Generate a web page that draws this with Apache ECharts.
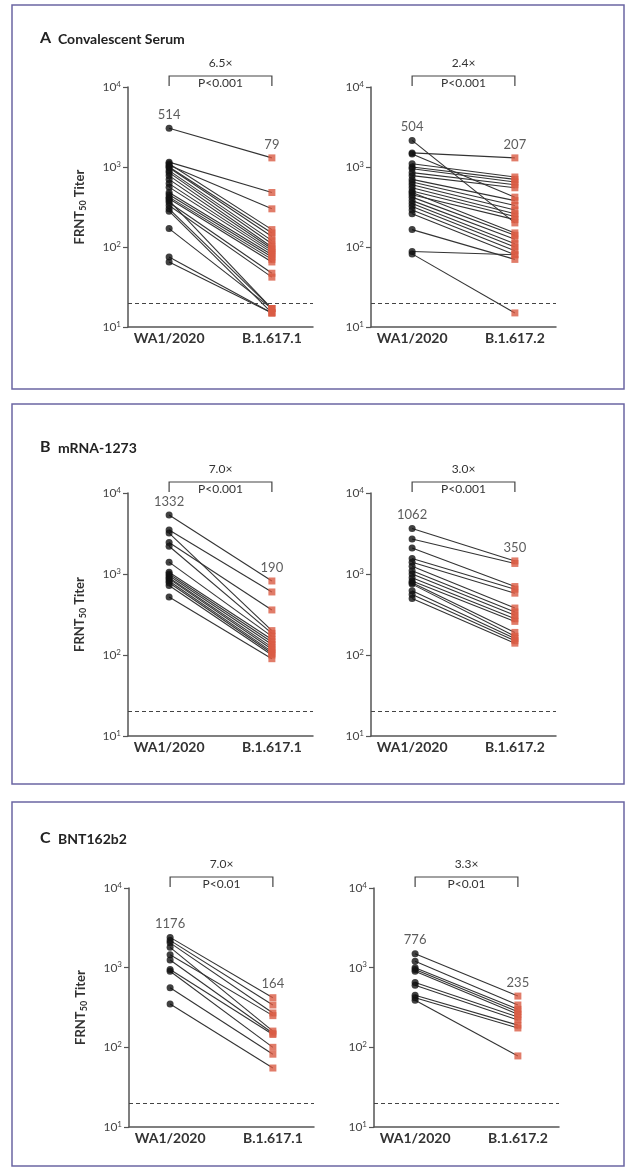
<!DOCTYPE html>
<html><head><meta charset="utf-8">
<script src="https://cdn.jsdelivr.net/npm/echarts@6/dist/echarts.min.js"></script>
<style>html,body{margin:0;padding:0;background:#fff}#c{width:627px;height:1175px}</style>
</head><body><div id="c"></div>
<script>
// ---------- DATA ----------
const panelLetters = ['A', 'B', 'C'];
const panelNames = ['Convalescent Serum', 'mRNA-1273', 'BNT162b2'];
const referenceStrain = 'WA1/2020';
const variantStrains = ['B.1.617.1', 'B.1.617.2'];
const yTickLabels = ['10', '10', '10', '10']; // base of 10^1..10^4
const limitOfDetection = 20;

// Panel A, Convalescent serum (paired by subject)
const convWA1_a = [3050,1150,1100,1050,1000,980,900,850,780,700,620,560,480,450,420,400,380,360,330,300,280,170,75,65];
const convB16171 = [1300,480,165,300,150,135,120,110,100,95,90,85,80,75,70,65,17,47,42,17,15,17,15,15];
const convWA1_b = [2150,1500,1450,1100,1000,950,850,780,700,650,600,550,500,480,450,420,380,350,320,290,260,165,88,82];
const convB16172 = [200,1300,420,750,700,650,600,550,380,330,290,260,240,150,220,140,125,110,100,90,80,70,80,15];
// Panel B, mRNA-1273
const mrnaWA1_a = [5350,3500,3200,2450,2200,1400,1050,1000,950,900,870,820,780,720,520];
const mrnaB16171 = [820,600,200,360,185,170,155,145,135,125,118,110,105,100,90];
const mrnaWA1_b = [3650,2700,2100,1550,1400,1250,1100,1000,900,820,780,750,620,560,500];
const mrnaB16172 = [1450,1350,700,650,580,380,340,310,280,260,190,170,160,150,140];
// Panel C, BNT162b2
const bntWA1_a = [2400,2200,2050,1800,1450,1250,950,900,560,350];
const bntB16171 = [420,340,270,160,250,150,145,100,82,55];
const bntWA1_b = [1500,1200,1000,950,900,650,600,450,420,390];
const bntB16172 = [440,340,300,280,260,240,220,190,175,78];

// Geometric mean titers, fold changes and P values shown on the chart
const gmtReference = [514, 504, 1332, 1062, 1176, 776];
const gmtVariant = [79, 207, 190, 350, 164, 235];
const foldChange = ['6.5×', '2.4×', '7.0×', '3.0×', '7.0×', '3.3×'];
const pValues = ['P<0.001', 'P<0.001', 'P<0.001', 'P<0.001', 'P<0.01', 'P<0.01'];

// ---------- LAYOUT ----------
const FONT = 'Lato';
const panelBoxes = [{y:5,h:384},{y:404,h:380},{y:802,h:364}];
const titleY = [38, 447, 838];
const gridTop = [87, 493, 888];
const gridH = [240, 243, 239];
const gridLeft = [[128, 371], [128, 371], [129, 374]];
const gridW = 185;
const X_REF = 2, X_VAR = 7; // slot positions on the 0..9 x scale

const charts = [
  [convWA1_a, convB16171], [convWA1_b, convB16172],
  [mrnaWA1_a, mrnaB16171], [mrnaWA1_b, mrnaB16172],
  [bntWA1_a, bntB16171], [bntWA1_b, bntB16172]
];

const grids = [], xAxes = [], yAxes = [], series = [];
charts.forEach((pair, g) => {
  const p = Math.floor(g / 2), s = g % 2;
  grids.push({left: gridLeft[p][s], top: gridTop[p], width: gridW, height: gridH[p]});
  xAxes.push({
    gridIndex: g, type: 'value', min: 0, max: 9, interval: 1,
    axisLine: {show: true, lineStyle: {color: '#555', width: 1.5}},
    axisTick: {show: false}, splitLine: {show: false},
    axisLabel: {
      formatter: v => v === X_REF ? referenceStrain : (v === X_VAR ? variantStrains[s] : ''),
      fontFamily: FONT, fontWeight: 'bold', fontSize: 14, color: '#333', margin: 4
    }
  });
  yAxes.push({
    gridIndex: g, type: 'log', logBase: 10, min: 10, max: 10000,
    axisLine: {show: true, lineStyle: {color: '#555', width: 1.5}},
    axisTick: {show: true, length: 5, lineStyle: {color: '#555', width: 1.2}},
    splitLine: {show: false}, minorTick: {show: false},
    axisLabel: {
      margin: 7,
      formatter: v => {
        const e = Math.round(Math.log10(v));
        return '{n|' + yTickLabels[e - 1] + '}{s|' + e + '}';
      },
      rich: {
        n: {fontFamily: FONT, fontSize: 12, color: '#444', lineHeight: 14},
        s: {fontFamily: FONT, fontSize: 8, color: '#444', verticalAlign: 'top'}
      }
    },
    name: s === 0 ? '{a|FRNT}{b|50}{a| Titer}' : '',
    nameLocation: 'middle', nameGap: 40, nameRotate: 90,
    nameTextStyle: {
      rich: {
        a: {fontFamily: FONT, fontWeight: 'bold', fontSize: 13, color: '#333', lineHeight: 16},
        b: {fontFamily: FONT, fontWeight: 'bold', fontSize: 9, color: '#333', verticalAlign: 'bottom'}
      }
    }
  });
  const ref = pair[0], vr = pair[1];
  ref.forEach((v, i) => {
    series.push({
      type: 'line', xAxisIndex: g, yAxisIndex: g, silent: true, animation: false,
      symbol: 'none', z: 2,
      lineStyle: {color: '#333', width: 1.1},
      data: [[X_REF, v], [X_VAR, vr[i]]]
    });
  });
  series.push({
    type: 'scatter', xAxisIndex: g, yAxisIndex: g, animation: false, z: 4,
    symbol: 'circle', symbolSize: 7, itemStyle: {color: '#111'},
    data: ref.map(v => [X_REF, v])
  });
  series.push({
    type: 'scatter', xAxisIndex: g, yAxisIndex: g, animation: false, z: 4,
    symbol: 'rect', symbolSize: 7, itemStyle: {color: '#d95b44'},
    data: vr.map(v => [X_VAR, v]),
    markLine: {
      silent: true, animation: false, symbol: ['none', 'none'], label: {show: false},
      lineStyle: {type: [4, 3], color: '#444', width: 1},
      data: [{yAxis: limitOfDetection}]
    }
  });
  series.push({
    type: 'scatter', xAxisIndex: g, yAxisIndex: g, animation: false, z: 5, silent: true,
    symbolSize: 2, itemStyle: {color: 'rgba(0,0,0,0)'},
    label: {
      show: true, position: 'top', distance: 6,
      fontFamily: FONT, fontSize: 13, color: '#333',
      formatter: prm => String(prm.dataIndex === 0 ? gmtReference[g] : gmtVariant[g])
    },
    data: [[X_REF, Math.max(...ref)], [X_VAR, Math.max(...vr)]]
  });
});

const chart = echarts.init(document.getElementById('c'), null, {renderer: 'canvas'});
chart.setOption({
  backgroundColor: '#fff', animation: false,
  grid: grids, xAxis: xAxes, yAxis: yAxes, series: series
});

const graphic = [];
panelBoxes.forEach((b, p) => {
  graphic.push({type: 'rect', shape: {x: 12, y: b.y, width: 612, height: b.h},
    style: {fill: 'none', stroke: '#6b65a3', lineWidth: 1.5}, silent: true});
  graphic.push({type: 'text', x: 40, y: titleY[p],
    style: {text: panelLetters[p], font: 'bold 16px ' + FONT, fill: '#222', verticalAlign: 'middle'}});
  graphic.push({type: 'text', x: 58, y: titleY[p] + 1,
    style: {text: panelNames[p], font: 'bold 14px ' + FONT, fill: '#222', verticalAlign: 'middle'}});
});
charts.forEach((pair, g) => {
  const p = Math.floor(g / 2);
  const x0 = chart.convertToPixel({gridIndex: g}, [X_REF, 1000])[0];
  const x1 = chart.convertToPixel({gridIndex: g}, [X_VAR, 1000])[0];
  const top = gridTop[p];
  const mid = (x0 + x1) / 2;
  graphic.push({type: 'polyline', silent: true,
    shape: {points: [[x0, top - 1], [x0, top - 11], [x1, top - 11], [x1, top - 1]]},
    style: {stroke: '#444', lineWidth: 1.2, fill: 'none'}});
  graphic.push({type: 'text', x: mid, y: top - 24,
    style: {text: foldChange[g], font: '12px ' + FONT, fill: '#333', align: 'center', verticalAlign: 'middle'}});
  graphic.push({type: 'text', x: mid, y: top - 4,
    style: {text: pValues[g], font: '12px ' + FONT, fill: '#333', align: 'center', verticalAlign: 'middle'}});
});
chart.setOption({graphic: graphic});
</script>
</body></html>
